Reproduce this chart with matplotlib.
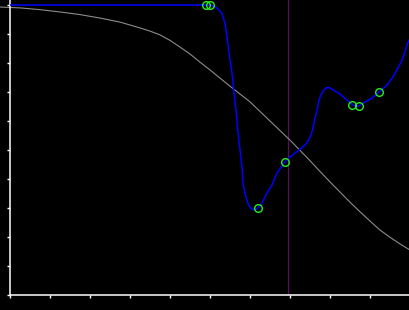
import matplotlib
matplotlib.use("Agg")
import matplotlib.pyplot as plt

# Gray sigmoid-like reference curve
gray_x = [-0.25, 0.25, 0.75, 1.25, 1.75, 2.25, 2.75, 3.25, 3.5, 3.75, 4.0, 4.25, 4.5,
          4.75, 5.0, 5.25, 5.5, 5.75, 6.0, 6.25, 6.5, 6.75, 7.0, 7.25, 7.5, 7.75,
          8.0, 8.25, 8.5, 8.75, 9.0, 9.25, 9.5, 9.75, 10.0]
gray_y = [9.93, 9.90, 9.84, 9.76, 9.67, 9.55, 9.41, 9.21, 9.10, 8.97, 8.78, 8.55, 8.31,
          8.03, 7.76, 7.48, 7.20, 6.93, 6.66, 6.33, 6.00, 5.67, 5.34, 4.99, 4.63, 4.26,
          3.90, 3.55, 3.20, 2.87, 2.55, 2.24, 1.99, 1.76, 1.55]

# Blue curve
blue_x = [0.0, 4.9, 5.0, 5.08, 5.15, 5.22, 5.3, 5.375, 5.425, 5.475, 5.55, 5.6, 5.65,
          5.7, 5.75, 5.8, 5.825, 5.86, 5.9, 5.95, 6.0, 6.05, 6.125, 6.2, 6.3, 6.425,
          6.55, 6.675, 6.875, 7.0, 7.2, 7.375, 7.45, 7.5, 7.55, 7.6, 7.675, 7.725,
          7.8, 7.875, 7.94, 8.0, 8.125, 8.25, 8.425, 8.55, 8.64, 8.725, 8.825, 9.05,
          9.225, 9.425, 9.575, 9.7, 9.8, 9.875, 9.95, 10.0]
blue_y = [10.0, 10.0, 9.99, 9.97, 9.92, 9.83, 9.70, 9.36, 8.90, 8.34, 7.66, 6.97, 6.38,
          5.59, 5.0, 4.41, 3.86, 3.59, 3.38, 3.15, 3.03, 2.96, 2.93, 3.0, 3.17, 3.52,
          3.79, 4.21, 4.59, 4.76, 4.97, 5.17, 5.31, 5.45, 5.62, 5.93, 6.38, 6.72,
          6.97, 7.12, 7.16, 7.14, 7.03, 6.93, 6.72, 6.57, 6.50, 6.52, 6.62, 6.79,
          7.0, 7.24, 7.52, 7.83, 8.10, 8.38, 8.72, 8.83]

# Green markers
pts_x = [4.9, 5.0, 6.2, 6.875, 8.55, 8.725, 9.225]
pts_y = [10.0, 10.0, 3.0, 4.59, 6.55, 6.52, 7.0]

# Vertical marker line
vline_x = 6.94

xticks = list(range(0, 11))
yticks = list(range(0, 11))

fig = plt.figure(figsize=(4.1, 3.1), dpi=100, facecolor="black")
ax = fig.add_axes([10 / 410, 15 / 310, 400 / 410, 295 / 310])
ax.set_facecolor("black")

ax.plot(gray_x, gray_y, color="#8c8c8c", lw=0.8, clip_on=False, zorder=2)
ax.axvline(vline_x, color="#5e0a5e", lw=0.9, zorder=1)
ax.plot(blue_x, blue_y, color="#0000ff", lw=1.1, zorder=3)
ax.plot(pts_x, pts_y, linestyle="none", marker="o", markersize=5.5,
        markerfacecolor="none", markeredgecolor="#22ee22", markeredgewidth=1.0, zorder=4)

ax.set_xlim(0, 10)
ax.set_ylim(0, 295 / 29)
ax.set_xticks(xticks)
ax.set_yticks(yticks)
ax.set_xticklabels([])
ax.set_yticklabels([])
ax.tick_params(colors="white", length=2.5, width=1.0, direction="out")
for s in ["top", "right"]:
    ax.spines[s].set_visible(False)
for s in ["left", "bottom"]:
    ax.spines[s].set_color("white")
    ax.spines[s].set_linewidth(1.1)

fig.savefig("out.png", dpi=100, facecolor="black")
